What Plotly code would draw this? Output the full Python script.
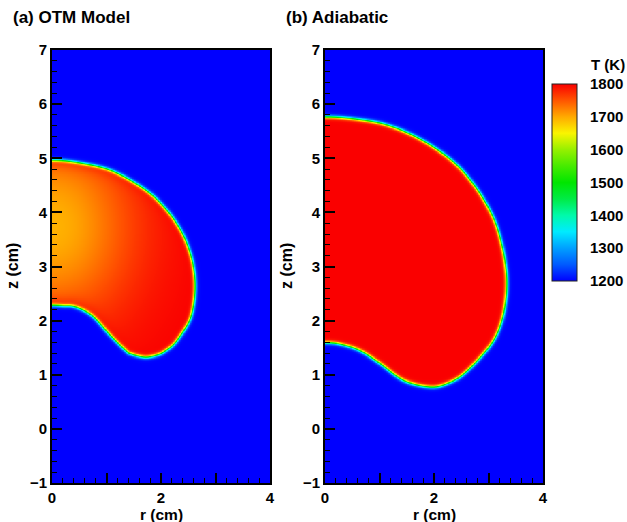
import numpy as np
import plotly.graph_objects as go

# ---- data ----
# flame front (mid-temperature contour) for panel (a), in (r, z) cm
front_a_r = [0.00, 0.50, 1.10, 1.71, 2.08, 2.33, 2.48, 2.58, 2.62, 2.60, 2.54, 2.45, 2.33, 2.22, 2.08, 1.95, 1.71, 1.45, 1.35, 1.04, 0.73, 0.42, 0.20, 0.00]
front_a_z = [4.97, 4.92, 4.77, 4.42, 4.07, 3.72, 3.40, 3.05, 2.69, 2.35, 2.07, 1.88, 1.70, 1.56, 1.45, 1.38, 1.33, 1.39, 1.45, 1.76, 2.10, 2.26, 2.28, 2.29]
# flame front for panel (b)
front_b_r = [0.00, 0.55, 1.13, 1.74, 2.35, 2.78, 3.09, 3.24, 3.31, 3.33, 3.31, 3.25, 3.14, 2.95, 2.55, 2.25, 1.93, 1.44, 1.01, 0.64, 0.28, 0.00]
front_b_z = [5.77, 5.73, 5.62, 5.36, 4.94, 4.44, 3.89, 3.40, 3.00, 2.69, 2.38, 2.05, 1.74, 1.45, 1.03, 0.85, 0.78, 0.90, 1.21, 1.45, 1.57, 1.60]

# temperatures (K)
T_unburnt = 1200.0
T_flame = 1800.0
# OTM core: cooler spot inside the burnt gas (position r, z; temperature; extent r, z)
otm_core = dict(r=0.0, z=3.75, T=1695.0, wr=1.45, wz=1.75)

cbar_levels = [1200, 1300, 1400, 1500, 1600, 1700, 1800]
r_ticks = [0, 1, 2, 3, 4]
r_ticktext = ["0", "", "2", "", "4"]
z_ticks = [-1, 0, 1, 2, 3, 4, 5, 6, 7]

# ---- build fields ----
rg = np.linspace(0.0, 4.0, 321)
zg = np.linspace(-1.0, 7.0, 641)
R, Z = np.meshgrid(rg, zg)


def smooth_closed(px, pz, sub=6):
    n = len(px)
    out_x, out_z = [], []
    for i in range(n):
        p0 = np.array([px[(i - 1) % n], pz[(i - 1) % n]])
        p1 = np.array([px[i], pz[i]])
        p2 = np.array([px[(i + 1) % n], pz[(i + 1) % n]])
        p3 = np.array([px[(i + 2) % n], pz[(i + 2) % n]])
        for t in np.linspace(0, 1, sub, endpoint=False):
            t2, t3 = t * t, t * t * t
            p = 0.5 * ((2 * p1) + (-p0 + p2) * t + (2 * p0 - 5 * p1 + 4 * p2 - p3) * t2
                       + (-p0 + 3 * p1 - 3 * p2 + p3) * t3)
            out_x.append(p[0]); out_z.append(p[1])
    return np.array(out_x), np.array(out_z)


def signed_distance(fr, fz):
    fr = np.asarray(fr, float); fz = np.asarray(fz, float)
    # mirror about the axis to obtain a closed curve (drop duplicate axis points)
    pr = np.concatenate([fr, -fr[::-1][1:-1]])
    pz = np.concatenate([fz, fz[::-1][1:-1]])
    pr, pz = smooth_closed(pr, pz)
    ax, az = pr, pz
    bx, bz = np.roll(pr, -1), np.roll(pz, -1)
    Px = R.ravel(); Pz = Z.ravel()
    dmin2 = np.full(Px.shape[0], np.inf)
    inside = np.zeros(Px.shape[0], dtype=bool)
    for i in range(len(ax)):
        x1, y1, x2, y2 = ax[i], az[i], bx[i], bz[i]
        dx, dy = x2 - x1, y2 - y1
        L2 = dx * dx + dy * dy
        if L2 == 0:
            continue
        t = np.clip(((Px - x1) * dx + (Pz - y1) * dy) / L2, 0, 1)
        ex = Px - (x1 + t * dx)
        ez = Pz - (y1 + t * dy)
        dmin2 = np.minimum(dmin2, ex * ex + ez * ez)
        cond = (y1 > Pz) != (y2 > Pz)
        if dy != 0:
            xint = x1 + (Pz - y1) * dx / dy
            inside ^= cond & (Px < xint)
    dmin = np.sqrt(dmin2)
    sd = np.where(inside, dmin, -dmin)
    return sd.reshape(R.shape)


def field(fr, fz, core=None):
    d = signed_distance(fr, fz)
    if core is None:
        Tint = np.full(R.shape, T_flame)
    else:
        g = np.exp(-(((R - core["r"]) / core["wr"]) ** 2 + ((Z - core["z"]) / core["wz"]) ** 2))
        Tint = T_flame - (T_flame - core["T"]) * g
    Tpk = Tint + (T_flame - Tint) * np.exp(-np.maximum(d, 0) / 0.09)
    frac = 0.5 * (1 + np.tanh(d / 0.035))
    T = T_unburnt + (Tpk - T_unburnt) * frac
    return np.round(T, 1)


Ta = field(front_a_r, front_a_z, otm_core)
Tb = field(front_b_r, front_b_z, None)

colorscale = [
    [0.0, "rgb(0,0,255)"],
    [1 / 12, "rgb(0,90,255)"],
    [2 / 12, "rgb(0,160,255)"],
    [3 / 12, "rgb(0,235,255)"],
    [4 / 12, "rgb(0,250,170)"],
    [5 / 12, "rgb(0,235,70)"],
    [6 / 12, "rgb(0,230,0)"],
    [7 / 12, "rgb(70,235,0)"],
    [8 / 12, "rgb(150,240,0)"],
    [9 / 12, "rgb(250,245,0)"],
    [10 / 12, "rgb(255,170,0)"],
    [11 / 12, "rgb(255,85,0)"],
    [1.0, "rgb(250,0,0)"],
]

W, H = 627, 522
xa = (52 / W, 270 / W)
xb = (325 / W, 543 / W)
yd = ((H - 483) / H, (H - 50) / H)

fig = go.Figure()
fig.add_trace(go.Heatmap(x=rg, y=zg, z=Ta, coloraxis="coloraxis", zsmooth="best",
                         xaxis="x", yaxis="y", hoverinfo="skip"))
fig.add_trace(go.Heatmap(x=rg, y=zg, z=Tb, coloraxis="coloraxis", zsmooth="best",
                         xaxis="x2", yaxis="y2", hoverinfo="skip"))

font_fam = "Liberation Sans, Arial, sans-serif"
tickfont = dict(family=font_fam, size=15, color="black", weight="bold")


def xaxis(domain, anchor):
    return dict(domain=domain, anchor=anchor, range=[0, 4], tickvals=r_ticks, ticktext=r_ticktext,
                ticks="inside", ticklen=10, tickwidth=2, tickcolor="black",
                minor=dict(dtick=0.2, ticks="inside", ticklen=5, tickwidth=1, tickcolor="black"),
                showline=True, linecolor="black", linewidth=2, mirror=True, showgrid=False,
                zeroline=False, tickfont=tickfont, automargin=False)


def yaxis(anchor):
    return dict(domain=yd, anchor=anchor, range=[-1, 7], tickvals=z_ticks,
                ticks="inside", ticklen=10, tickwidth=2, tickcolor="black",
                minor=dict(dtick=0.2, ticks="inside", ticklen=5, tickwidth=1, tickcolor="black"),
                showline=True, linecolor="black", linewidth=2, mirror=True, showgrid=False,
                zeroline=False, tickfont=tickfont, automargin=False)


cb_top, cb_bot = 84, 281
fig.update_layout(
    width=W, height=H, margin=dict(l=0, r=0, t=0, b=0, autoexpand=False),
    paper_bgcolor="white", plot_bgcolor="white",
    xaxis=xaxis(xa, "y"), yaxis=yaxis("x"),
    xaxis2=xaxis(xb, "y2"), yaxis2=yaxis("x2"),
    coloraxis=dict(cmin=1200, cmax=1800, colorscale=colorscale,
                   colorbar=dict(x=552 / W, xanchor="left", xpad=0, ypad=0,
                                 y=1 - (cb_top + cb_bot) / 2 / H, yanchor="middle",
                                 len=(cb_bot - cb_top) / H, lenmode="fraction",
                                 thickness=25, thicknessmode="pixels",
                                 outlinewidth=1, outlinecolor="#222",
                                 tickvals=cbar_levels, ticks="outside", ticklen=10,
                                 tickcolor="rgba(0,0,0,0)", tickfont=tickfont)),
    showlegend=False,
)

# colorbar level separators
for L in cbar_levels[1:-1]:
    yp = 1 - (cb_bot - (L - 1200) / 600 * (cb_bot - cb_top)) / H
    fig.add_shape(type="line", xref="paper", yref="paper", x0=552 / W, x1=577 / W, y0=yp, y1=yp,
                  line=dict(color="rgba(40,40,40,0.8)", width=1))

titlefont = dict(family=font_fam, size=17, color="black", weight="bold")
axfont = dict(family=font_fam, size=16, color="black", weight="bold")
rfont = dict(family=font_fam, size=15.5, color="black", weight="bold")
anns = [
    dict(text="(a) OTM Model", x=11 / W, y=1 - 18 / H, xanchor="left", yanchor="middle", font=titlefont),
    dict(text="(b) Adiabatic", x=284 / W, y=1 - 18 / H, xanchor="left", yanchor="middle", font=titlefont),
    dict(text="T (K)", x=589 / W, y=1 - 65 / H, xanchor="left", yanchor="middle", font=tickfont),
    dict(text="r (cm)", x=161 / W, y=1 - 514 / H, xanchor="center", yanchor="middle", font=rfont),
    dict(text="r (cm)", x=434 / W, y=1 - 514 / H, xanchor="center", yanchor="middle", font=rfont),
    dict(text="z (cm)", x=12 / W, y=1 - 266 / H, xanchor="center", yanchor="middle", textangle=-90, font=axfont),
    dict(text="z (cm)", x=286 / W, y=1 - 266 / H, xanchor="center", yanchor="middle", textangle=-90, font=axfont),
]
for a in anns:
    fig.add_annotation(xref="paper", yref="paper", showarrow=False, **a)

fig.write_html("out.html")
